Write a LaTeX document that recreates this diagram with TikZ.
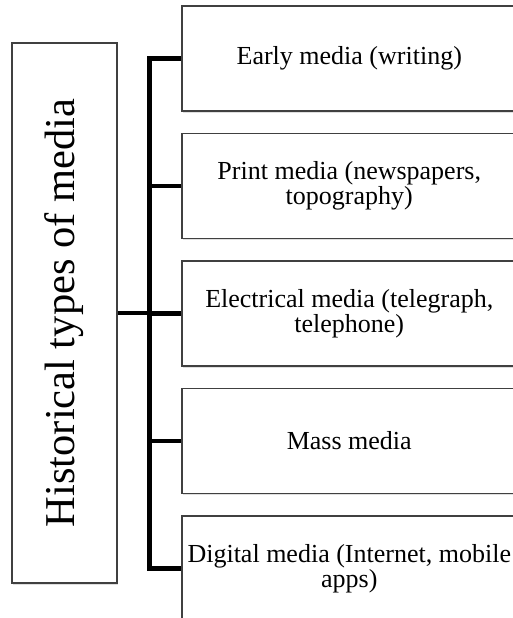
\documentclass[tikz,border=0pt]{standalone}
\usepackage{fontspec}
\setmainfont{Liberation Serif}
\usetikzlibrary{shadows}
\tikzset{
  mediabox/.style={draw=black!75, line width=1.5pt, fill=white, inner sep=1pt, align=center,
    minimum width=335pt, minimum height=105pt, font=\fontsize{26}{25.5}\selectfont,
    drop shadow={shadow xshift=1pt, shadow yshift=-1.5pt, fill=black!25}},
  branch/.style={line width=4.5pt, line join=miter}
}

\begin{document}
\begin{tikzpicture}[x=1pt,y=-1pt]
  \useasboundingbox (0,0) rectangle (513,618);
  \clip (0,0) rectangle (513,618);
  % main box
  \node[mediabox, minimum width=105pt, minimum height=540pt, font=\fontsize{42.5}{42.5}\selectfont] (hist) at (64.5,313) {\rotatebox{90}{Historical types of media}};
  % types
  \node[mediabox, anchor=west] (early) at (181,58.5) {Early media (writing)};
  \node[mediabox, anchor=west] (print) at (181,186) {Print media (newspapers,\\ topography)};
  \node[mediabox, anchor=west] (electric) at (181,313.5) {Electrical media (telegraph,\\ telephone)};
  \node[mediabox, anchor=west] (mass) at (181,441) {Mass media};
  \node[mediabox, anchor=west] (digital) at (181,568.5) {Digital media (Internet, mobile\\ apps)};
  % branches
  \coordinate (trunk) at (149.5,313);
  \draw[branch] (early.west) -- (trunk |- early.west) -- (trunk |- digital.west) -- (digital.west);
  \draw[branch] (hist.east) -- (trunk);
  \foreach \n in {print,electric,mass}
    \draw[branch] (trunk |- \n.west) -- (\n.west);
\end{tikzpicture}
\end{document}
